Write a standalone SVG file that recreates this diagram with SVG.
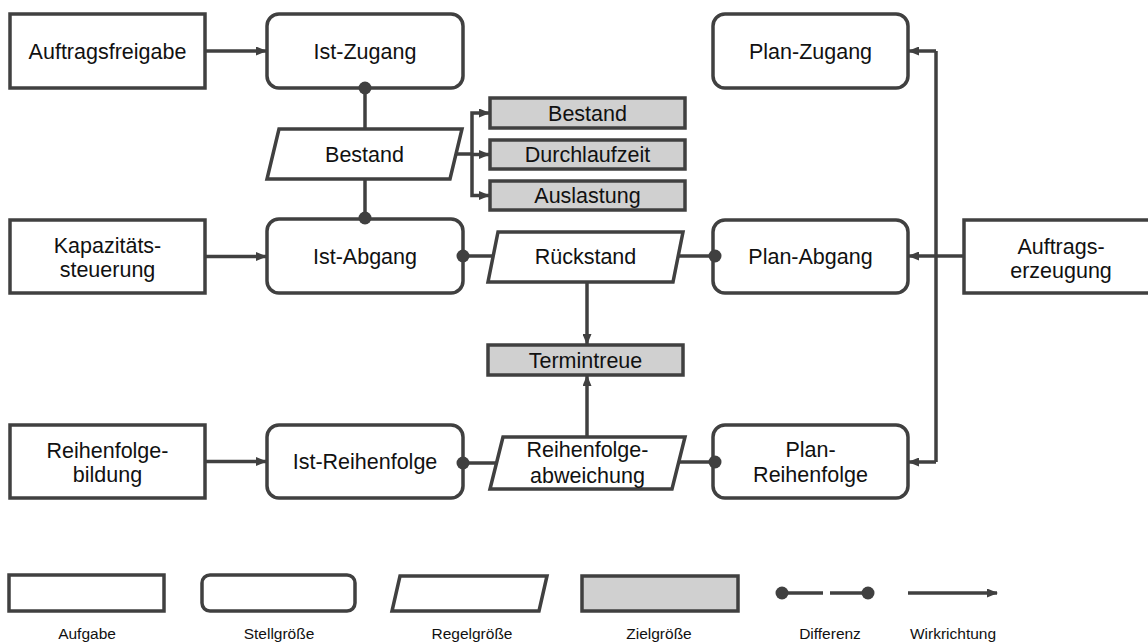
<svg xmlns="http://www.w3.org/2000/svg" width="1148" height="644" viewBox="0 0 1148 644">
  <defs>
    <marker id="arrow" viewBox="0 0 11 9" refX="10" refY="4.5" markerWidth="11" markerHeight="9" markerUnits="userSpaceOnUse" orient="auto">
      <path d="M0,0 L11,4.5 L0,9 z" fill="#404040"/>
    </marker>
    <style>
      .task { fill: #ffffff; stroke: #404040; stroke-width: 3.5; }
      .ctrl { fill: #ffffff; stroke: #404040; stroke-width: 3.5; }
      .meas { fill: #ffffff; stroke: #404040; stroke-width: 3.5; stroke-linejoin: miter; }
      .goal { fill: #d0d0d0; stroke: #404040; stroke-width: 3.5; }
      .lbl { font-family: "Liberation Sans", Arial, sans-serif; font-size: 21.5px; fill: #111111; text-anchor: middle; }
      .leg { font-family: "Liberation Sans", Arial, sans-serif; font-size: 15.5px; fill: #111111; text-anchor: middle; }
      .wire { fill: none; stroke: #404040; stroke-width: 3.5; }
      .arr { marker-end: url(#arrow); }
      .dot { fill: #404040; }
    </style>
  </defs>

  <!-- left column: tasks -->
  <g id="auftragsfreigabe">
    <rect class="task" x="10" y="14" width="195" height="74"/>
    <text class="lbl" x="107.5" y="58.5">Auftragsfreigabe</text>
  </g>
  <g id="kapazitaetssteuerung">
    <rect class="task" x="10" y="220" width="195" height="73"/>
    <text class="lbl" x="107.5" y="253">Kapazitäts-</text>
    <text class="lbl" x="107.5" y="277">steuerung</text>
  </g>
  <g id="reihenfolgebildung">
    <rect class="task" x="10" y="425" width="195" height="73"/>
    <text class="lbl" x="107.5" y="457.5">Reihenfolge-</text>
    <text class="lbl" x="107.5" y="482">bildung</text>
  </g>

  <!-- actual values -->
  <g id="ist-zugang">
    <rect class="ctrl" x="267" y="14" width="196" height="74" rx="12"/>
    <text class="lbl" x="365" y="58.5">Ist-Zugang</text>
  </g>
  <g id="ist-abgang">
    <rect class="ctrl" x="267" y="219" width="196" height="74" rx="12"/>
    <text class="lbl" x="365" y="264">Ist-Abgang</text>
  </g>
  <g id="ist-reihenfolge">
    <rect class="ctrl" x="267" y="425" width="196" height="73" rx="12"/>
    <text class="lbl" x="365" y="469">Ist-Reihenfolge</text>
  </g>

  <!-- controlled variables -->
  <g id="bestand">
    <polygon class="meas" points="279,129 462,129 450,179 267,179"/>
    <text class="lbl" x="364.5" y="161.5">Bestand</text>
  </g>
  <g id="rueckstand">
    <polygon class="meas" points="498,232 683,232 673,282 488,282"/>
    <text class="lbl" x="585.5" y="264">Rückstand</text>
  </g>
  <g id="reihenfolgeabweichung">
    <polygon class="meas" points="503,437 685,437 672,489 490,489"/>
    <text class="lbl" x="587.5" y="457">Reihenfolge-</text>
    <text class="lbl" x="587.5" y="483">abweichung</text>
  </g>

  <!-- targets -->
  <g id="ziel-bestand">
    <rect class="goal" x="490" y="98" width="195" height="30"/>
    <text class="lbl" x="587.5" y="121">Bestand</text>
  </g>
  <g id="ziel-durchlaufzeit">
    <rect class="goal" x="490" y="140" width="195" height="29"/>
    <text class="lbl" x="587.5" y="162">Durchlaufzeit</text>
  </g>
  <g id="ziel-auslastung">
    <rect class="goal" x="490" y="181" width="195" height="29"/>
    <text class="lbl" x="587.5" y="203">Auslastung</text>
  </g>
  <g id="ziel-termintreue">
    <rect class="goal" x="488" y="345" width="195" height="30"/>
    <text class="lbl" x="585.5" y="368">Termintreue</text>
  </g>

  <!-- planned values -->
  <g id="plan-zugang">
    <rect class="ctrl" x="713" y="14" width="195" height="74" rx="12"/>
    <text class="lbl" x="810.5" y="58.5">Plan-Zugang</text>
  </g>
  <g id="plan-abgang">
    <rect class="ctrl" x="713" y="220" width="195" height="73" rx="12"/>
    <text class="lbl" x="810.5" y="264">Plan-Abgang</text>
  </g>
  <g id="plan-reihenfolge">
    <rect class="ctrl" x="713" y="425" width="195" height="73" rx="12"/>
    <text class="lbl" x="810.5" y="456.5">Plan-</text>
    <text class="lbl" x="810.5" y="482">Reihenfolge</text>
  </g>

  <!-- order generation -->
  <g id="auftragserzeugung">
    <rect class="task" x="964" y="220" width="195" height="73"/>
    <text class="lbl" x="1061" y="254">Auftrags-</text>
    <text class="lbl" x="1061" y="278">erzeugung</text>
  </g>

  <!-- connectors, drawn over the node outlines so the difference dots sit on top -->
  <g id="connectors">
    <line class="wire arr" x1="205" y1="51" x2="266" y2="51"/>
    <line class="wire arr" x1="205" y1="256.5" x2="266" y2="256.5"/>
    <line class="wire arr" x1="205" y1="461.5" x2="266" y2="461.5"/>

    <!-- Bestand difference -->
    <line class="wire" x1="365" y1="88" x2="365" y2="129"/>
    <line class="wire" x1="365" y1="179" x2="365" y2="218"/>
    <circle class="dot" cx="365" cy="88" r="6.5"/>
    <circle class="dot" cx="365" cy="218" r="6.5"/>

    <!-- Bestand to goals -->
    <polyline class="wire" points="456,154 472,154"/>
    <polyline class="wire arr" points="472,154 472,113 489,113"/>
    <line class="wire arr" x1="472" y1="154.5" x2="489" y2="154.5"/>
    <polyline class="wire arr" points="472,154 472,195.5 489,195.5"/>

    <!-- Rückstand difference -->
    <line class="wire" x1="463" y1="256" x2="494" y2="256"/>
    <line class="wire" x1="677" y1="256" x2="715" y2="256"/>
    <circle class="dot" cx="463" cy="256" r="6.5"/>
    <circle class="dot" cx="715" cy="256" r="6.5"/>
    <line class="wire arr" x1="587" y1="282" x2="587" y2="344"/>

    <!-- Reihenfolgeabweichung difference -->
    <line class="wire" x1="463" y1="463" x2="497" y2="463"/>
    <line class="wire" x1="678" y1="462" x2="715" y2="462"/>
    <circle class="dot" cx="463" cy="463" r="6.5"/>
    <circle class="dot" cx="715" cy="462" r="6.5"/>
    <line class="wire arr" x1="587" y1="437" x2="587" y2="376"/>

    <!-- Auftragserzeugung to plan values -->
    <line class="wire arr" x1="964" y1="256" x2="909" y2="256"/>
    <polyline class="wire" points="936,51 936,462"/>
    <line class="wire arr" x1="936" y1="51" x2="909" y2="51"/>
    <line class="wire arr" x1="936" y1="462" x2="909" y2="462"/>
  </g>

  <!-- legend -->
  <g id="legende">
    <rect class="task" x="9" y="575" width="155" height="36"/>
    <text class="leg" x="87" y="639">Aufgabe</text>

    <rect class="ctrl" x="202" y="575" width="153" height="36" rx="8"/>
    <text class="leg" x="279" y="639">Stellgröße</text>

    <polygon class="meas" points="400,576 547,576 539,611 392,611"/>
    <text class="leg" x="472" y="639">Regelgröße</text>

    <rect class="goal" x="582" y="576" width="156" height="35"/>
    <text class="leg" x="659" y="639">Zielgröße</text>

    <line class="wire" x1="782" y1="593" x2="823" y2="593"/>
    <line class="wire" x1="830" y1="593" x2="868" y2="593"/>
    <circle class="dot" cx="782" cy="593" r="6.5"/>
    <circle class="dot" cx="868" cy="593" r="6.5"/>
    <text class="leg" x="830" y="639">Differenz</text>

    <line class="wire arr" x1="908" y1="593" x2="997" y2="593"/>
    <text class="leg" x="953" y="639">Wirkrichtung</text>
  </g>
</svg>
